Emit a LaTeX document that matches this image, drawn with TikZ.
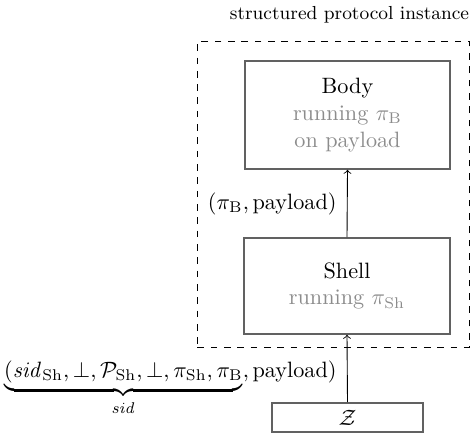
\documentclass[tikz,border=0pt]{standalone}
\usepackage{amsmath}
\def\pxu{0.4503pt}
\begin{document}
\begin{tikzpicture}[x=\pxu,y=-\pxu,
  box/.style={draw=black!62,line width=0.7pt,rectangle,inner sep=0pt},
  lab/.style={inner sep=0pt,anchor=base east},
  conn/.style={->,black}]
\useasboundingbox (0,0) rectangle (470,433);
\node[draw,dashed,inner sep=0pt,minimum width=272*\pxu,minimum height=306*\pxu,anchor=north west] (inst) at (197,41) {};
\node[anchor=base,font=\fontsize{8.5}{10}\selectfont] (title) at (349.5,20) {structured protocol instance};
\node[box,minimum width=205*\pxu,minimum height=108*\pxu,align=center] (body) at (347.5,115)
  {Body\\ \textcolor{black!45}{running $\pi_{\mathrm{B}}$}\\ \textcolor{black!45}{on payload}};
\node[box,minimum width=206*\pxu,minimum height=96*\pxu,align=center] (shell) at (347,286)
  {Shell\\ \textcolor{black!45}{running $\pi_{\mathrm{Sh}}$}};
\node[box,minimum width=151*\pxu,minimum height=29*\pxu] (z) at (347.5,417.5) {$\mathcal{Z}$};
\draw[conn] (shell.north) -- (body.south);
\draw[conn] (z.north) -- (shell.south);
\node[lab] (plabel) at (337,209) {$(\pi_{\mathrm{B}},\text{payload})$};
\node[lab] (sidlabel) at (337,377) {$\underbrace{(\mathit{sid}_{\mathrm{Sh}},\bot,\mathcal{P}_{\mathrm{Sh}},\bot,\pi_{\mathrm{Sh}},\pi_{\mathrm{B}}}_{\mathit{sid}},\text{payload})$};
\end{tikzpicture}
\end{document}
